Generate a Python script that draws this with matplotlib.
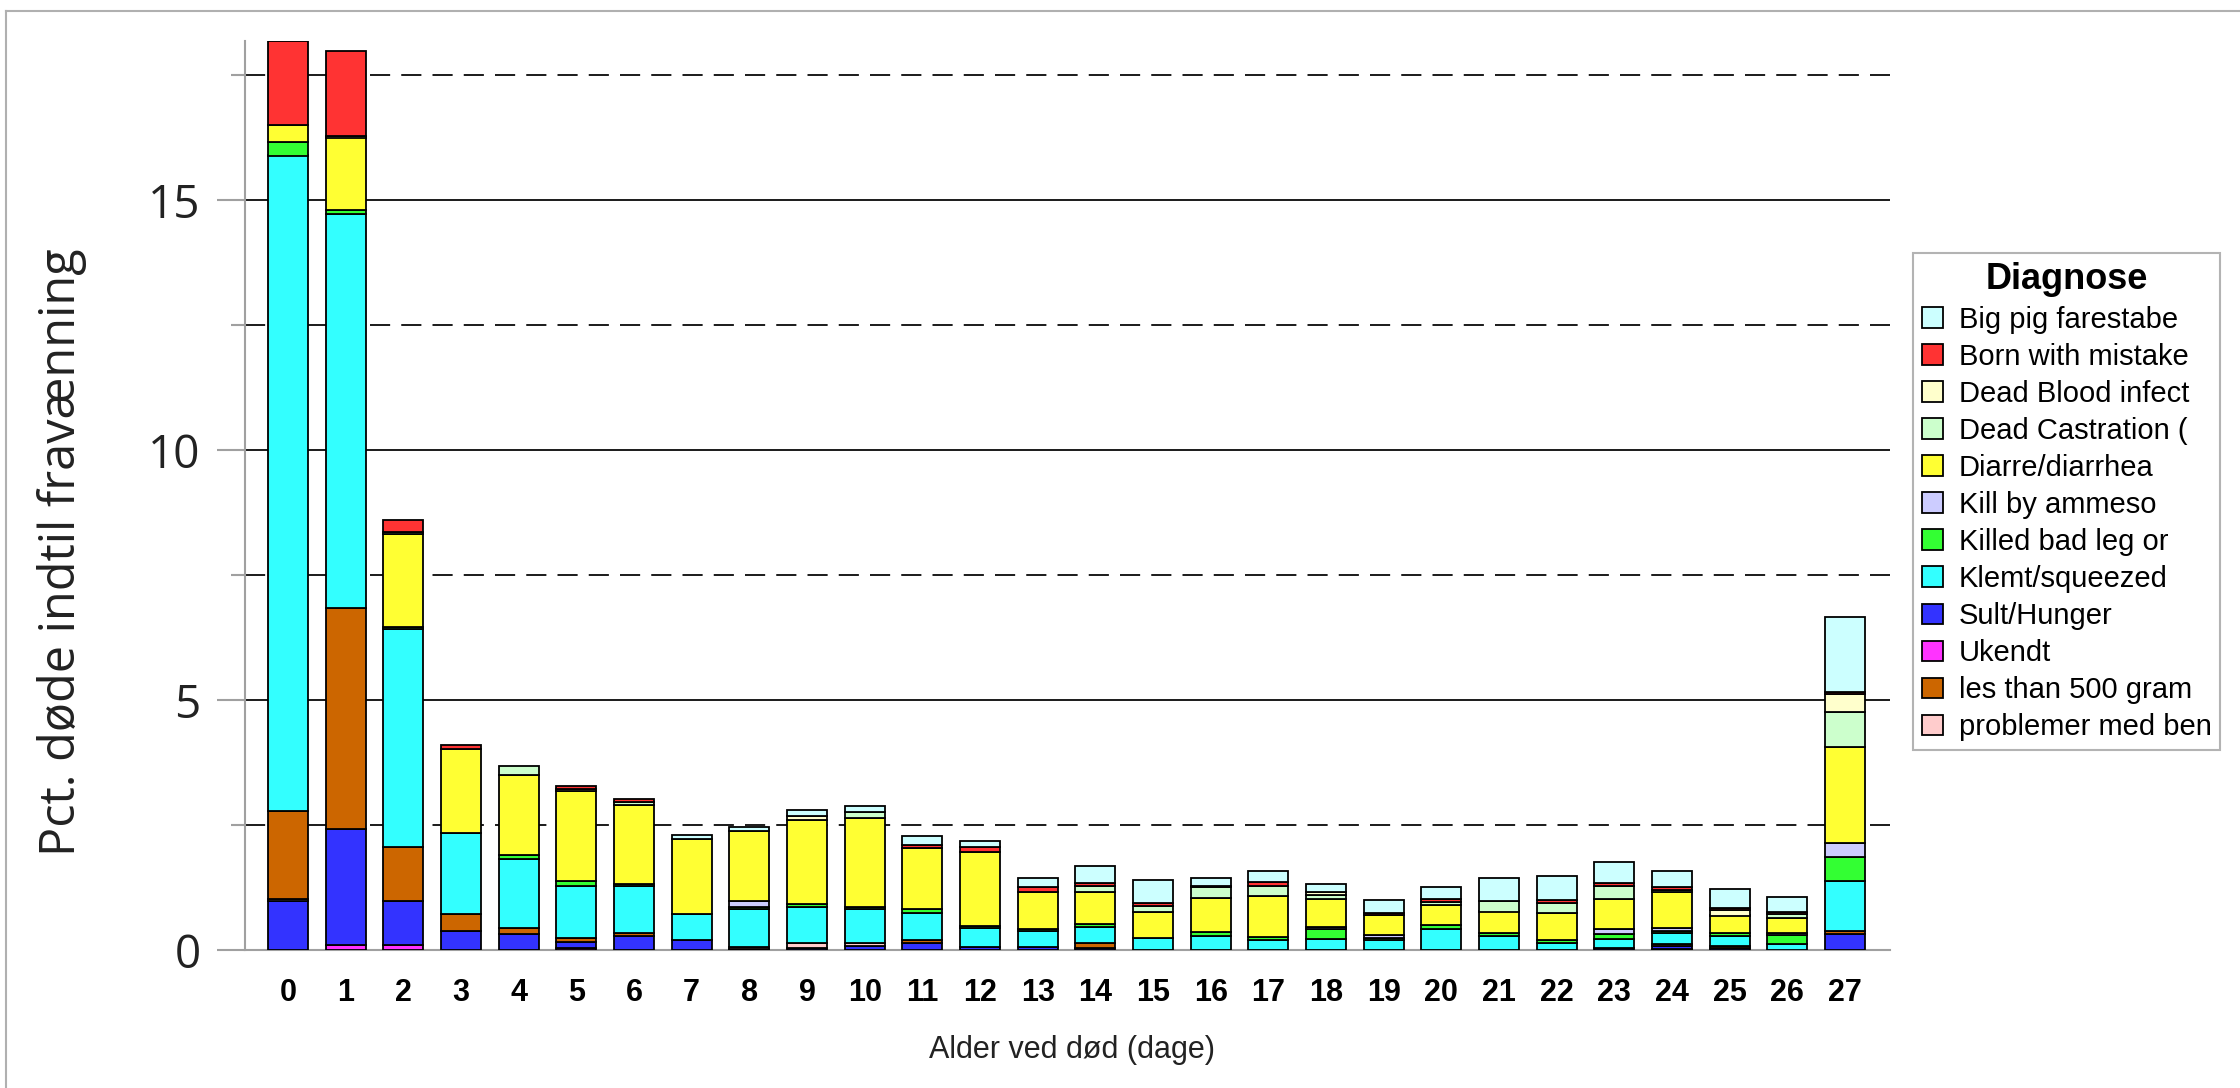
import matplotlib
matplotlib.use('Agg')
import matplotlib.pyplot as plt
from matplotlib.patches import Patch
from matplotlib.lines import Line2D
from matplotlib.ticker import MultipleLocator

plt.rcParams['lines.scale_dashes'] = False

ages = list(range(28))

# segment heights per diagnose, bottom to top of every bar
ukendt = [0, .10, .10, 0, 0, .05, 0, 0, 0, 0, 0, 0, 0, 0, 0, 0, 0, 0, 0, 0, 0, 0, 0, 0, .03, 0, 0, 0]
sult = [.98, 2.33, .88, .38, .32, .12, .29, .20, .03, .05, .09, .15, .07, .07, .05, 0, 0, 0, 0, 0, 0, 0, 0, .05, .05, .04, 0, .32]
problemer = [.04, 0, 0, 0, 0, 0, 0, 0, .04, .10, .06, 0, 0, 0, 0, 0, 0, 0, 0, 0, 0, 0, 0, 0, 0, 0, 0, 0]
lesThan = [1.77, 4.41, 1.08, .35, .12, .07, .05, 0, 0, 0, 0, .06, 0, 0, .10, 0, 0, 0, 0, 0, 0, 0, 0, 0, .05, .04, 0, .06]
klemt = [13.10, 7.88, 4.36, 1.62, 1.38, 1.04, .94, .53, .76, .71, .68, .53, .37, .32, .32, .25, .28, .20, .23, .20, .42, .29, .15, .18, .21, .20, .13, 1.00]
killedLeg = [.26, .08, .05, 0, .08, .10, .04, 0, .04, .07, .04, .08, .05, .04, .06, 0, .09, .07, .19, .05, .08, .06, .06, .09, .05, .06, .18, .49]
killAmmeso = [0, 0, 0, 0, 0, 0, 0, 0, .11, 0, 0, 0, 0, 0, 0, 0, 0, 0, .05, .05, 0, 0, 0, .10, .05, 0, .04, .27]
diarre = [.35, 1.45, 1.86, 1.67, 1.60, 1.80, 1.59, 1.49, 1.41, 1.68, 1.77, 1.22, 1.47, .73, .64, .52, .67, .82, .55, .40, .40, .42, .53, .60, .72, .35, .29, 1.93]
deadCastr = [0, .03, .04, 0, .18, 0, .05, 0, 0, 0, .12, 0, 0, 0, .12, .12, .22, .20, .08, 0, .07, .22, .20, .27, .05, 0, .08, .70]
deadBlood = [0, 0, 0, 0, 0, .05, 0, 0, 0, .08, 0, 0, 0, 0, 0, 0, 0, 0, .07, 0, 0, 0, 0, 0, 0, .11, 0, .36]
born = [1.67, 1.70, .23, .08, 0, .05, .06, 0, 0, 0, 0, .07, .10, .11, .05, .06, .02, .07, 0, .04, .05, 0, .06, .05, .06, .04, .05, .04]
bigPig = [0, 0, 0, 0, 0, 0, 0, .09, .08, .11, .12, .17, .13, .18, .34, .46, .16, .22, .15, .26, .25, .45, .49, .42, .31, .38, .29, 1.50]

stack = [
    ('Ukendt', ukendt, '#FF33FF'),
    ('Sult/Hunger', sult, '#3333FF'),
    ('problemer med ben', problemer, '#FFCCCC'),
    ('les than 500 gram', lesThan, '#CC6600'),
    ('Klemt/squeezed', klemt, '#33FFFF'),
    ('Killed bad leg or', killedLeg, '#33FF33'),
    ('Kill by ammeso', killAmmeso, '#CCCCFF'),
    ('Diarre/diarrhea', diarre, '#FFFF33'),
    ('Dead Castration (', deadCastr, '#CCFFCC'),
    ('Dead Blood infect', deadBlood, '#FFFFCC'),
    ('Born with mistake', born, '#FF3333'),
    ('Big pig farestabe', bigPig, '#CCFFFF'),
]

W, H = 2240, 1088
fig = plt.figure(figsize=(W / 100, H / 100), dpi=100)
ax = fig.add_axes([245 / W, 1 - 950 / H, (1890 - 245) / W, (950 - 41) / H])

bottom = [0.0] * len(ages)
for name, vals, col in stack:
    lw = [1.3 if v > 0 else 0 for v in vals]
    ax.bar(ages, vals, width=0.69, bottom=bottom, color=col, edgecolor='black',
           linewidth=lw, zorder=3)
    bottom = [b + v for b, v in zip(bottom, vals)]

ax.set_xlim(-0.746, 27.78)
ax.set_ylim(0, 18.18)

ax.yaxis.set_major_locator(MultipleLocator(5))
ax.yaxis.set_minor_locator(MultipleLocator(2.5))
ax.grid(which='major', axis='y', color='#1a1a1a', linewidth=1.4, zorder=0)
ax.grid(which='minor', axis='y', color='#1a1a1a', linewidth=1.4, linestyle=(0, (14.5, 8)), zorder=0)
ax.set_axisbelow(True)

for s in ['top', 'right']:
    ax.spines[s].set_visible(False)
for s in ['left', 'bottom']:
    ax.spines[s].set_color('#a0a0a0')
    ax.spines[s].set_linewidth(1.5)

ax.tick_params(axis='y', which='major', length=20, width=1.5, color='#a0a0a0', pad=12,
               labelsize=33, labelcolor='#222222')
ax.tick_params(axis='y', which='minor', length=10, width=1.5, color='#a0a0a0')
ax.tick_params(axis='x', length=0, pad=20)
ax.set_xticks(ages)
ax.set_xticklabels([str(a) for a in ages], fontfamily='Liberation Sans', fontweight='bold', fontsize=22)
for lab in ax.get_yticklabels():
    lab.set_fontfamily('Open Sans')

fig.text(1072 / W, 1 - 1050 / H, 'Alder ved død (dage)', ha='center', va='center',
         fontsize=22, fontfamily='Liberation Sans', color='#222222')
fig.text(62 / W, 1 - 552 / H, 'Pct. døde indtil fravænning', ha='center', va='center',
         rotation=90, fontsize=35, fontfamily='Open Sans', color='#222222')

# legend in alphabetical order like the original
legendOrder = sorted(stack, key=lambda t: t[0])
handles = [Patch(facecolor=c, edgecolor='black', linewidth=1.3, label=n) for n, v, c in legendOrder]
leg = fig.legend(handles=handles, loc='upper left', bbox_to_anchor=(1913 / W, 1 - 253 / H),
                 borderaxespad=0, frameon=True, fancybox=False, edgecolor='#a0a0a0',
                 title='Diagnose', prop={'family': 'Liberation Sans', 'size': 21},
                 title_fontproperties={'family': 'Liberation Sans', 'size': 26, 'weight': 'bold'},
                 handlelength=0.72, handleheight=0.72, handletextpad=0.55, labelspacing=0.31,
                 borderpad=0.3)
leg.get_frame().set_linewidth(1.5)

# outer frame of the picture
fig.add_artist(Line2D([6 / W, 1], [1 - 11 / H, 1 - 11 / H], color='#b0b0b0', linewidth=1.5,
                      transform=fig.transFigure))
fig.add_artist(Line2D([6 / W, 6 / W], [0, 1 - 11 / H], color='#b0b0b0', linewidth=1.5,
                      transform=fig.transFigure))

fig.savefig('out.png', dpi=100, facecolor='white')
